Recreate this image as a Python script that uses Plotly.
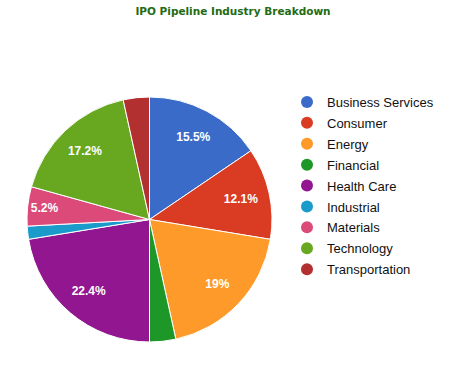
import plotly.graph_objects as go

categories = ["Business Services", "Consumer", "Energy", "Financial", "Health Care",
              "Industrial", "Materials", "Technology", "Transportation"]
counts = [9, 7, 11, 2, 13, 1, 3, 10, 2]
colors = ["#3a6bc9", "#d93c23", "#fd9a2a", "#1d9727", "#92168f",
          "#1b9bc9", "#dc4a7a", "#68a820", "#b2302f"]

total = sum(counts)
label_texts = [f"{round(c / total * 100, 1):g}%" if c / total >= 0.05 else "" for c in counts]

dom = dict(x=[27/452, 272/452], y=[1-342/367, 1-97/367])

fig = go.Figure()
fig.add_trace(go.Pie(
    labels=categories, values=counts, sort=False, direction="clockwise", rotation=0,
    marker=dict(colors=colors, line=dict(color="white", width=1)),
    textinfo="none", showlegend=False, hoverinfo="label+percent", domain=dom,
))
# transparent ring carrying the slice labels at ~3/4 of the radius
fig.add_trace(go.Pie(
    labels=categories, values=counts, sort=False, direction="clockwise", rotation=0,
    hole=0.53, marker=dict(colors=["rgba(0,0,0,0)"] * len(counts), line=dict(width=0)),
    text=label_texts, textinfo="text", textposition="inside",
    insidetextorientation="horizontal",
    textfont=dict(family="Liberation Sans, Arial", size=12, color="white", weight="bold"),
    showlegend=False, hoverinfo="skip", domain=dom,
))
for name, col in zip(categories, colors):
    fig.add_trace(go.Scatter(
        x=[None], y=[None], mode="markers", name=name, legendgroup=name,
        marker=dict(symbol="circle", size=13, color=col), showlegend=True,
    ))

fig.update_layout(
    width=452, height=367, margin=dict(l=0, r=0, t=0, b=0),
    paper_bgcolor="white", plot_bgcolor="white",
    xaxis=dict(visible=False), yaxis=dict(visible=False),
    uniformtext=dict(minsize=12, mode="show"),
    title=dict(text="<b>IPO Pipeline Industry Breakdown</b>", x=233/452, xanchor="center",
               y=1-11/367, yanchor="middle",
               font=dict(family="DejaVu Sans", size=10.5, color="#236b12")),
    legend=dict(x=287/452, xanchor="left", y=1-87/367, yanchor="top",
                font=dict(family="Liberation Sans, Arial", size=13, color="#111111"),
                tracegroupgap=1, itemsizing="constant", bgcolor="rgba(0,0,0,0)"),
)
fig.write_html("out.html", config={"displayModeBar": False},
               post_script="document.body.style.margin='0';")
